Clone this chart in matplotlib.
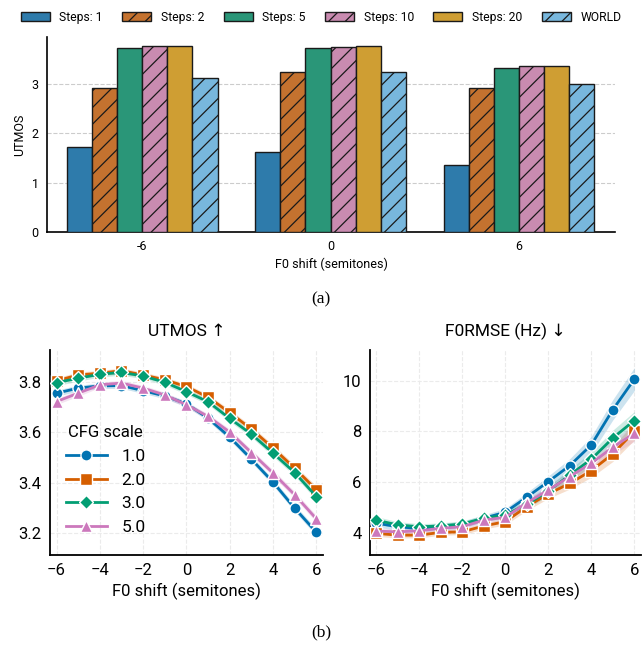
import numpy as np
import matplotlib
matplotlib.use("Agg")
import matplotlib.pyplot as plt

# ---- data (a): bar chart
shift_groups = ["-6", "0", "6"]
bar_labels = ["Steps: 1", "Steps: 2", "Steps: 5", "Steps: 10", "Steps: 20", "WORLD"]
steps_1 = [1.73, 1.63, 1.35]
steps_2 = [2.93, 3.25, 2.93]
steps_5 = [3.74, 3.74, 3.33]
steps_10 = [3.77, 3.75, 3.37]
steps_20 = [3.77, 3.77, 3.38]
world = [3.12, 3.24, 3.01]

# ---- data (b): line plots
shifts = [-6, -5, -4, -3, -2, -1, 0, 1, 2, 3, 4, 5, 6]
cfg_labels = ["1.0", "2.0", "3.0", "5.0"]
utmos_cfg1 = [3.754, 3.774, 3.783, 3.784, 3.764, 3.743, 3.712, 3.655, 3.580, 3.493, 3.402, 3.299, 3.204]
utmos_cfg2 = [3.803, 3.826, 3.833, 3.843, 3.826, 3.807, 3.780, 3.738, 3.677, 3.612, 3.537, 3.457, 3.372]
utmos_cfg3 = [3.796, 3.813, 3.829, 3.836, 3.822, 3.797, 3.760, 3.720, 3.654, 3.592, 3.517, 3.440, 3.345]
utmos_cfg5 = [3.721, 3.754, 3.787, 3.794, 3.774, 3.747, 3.708, 3.662, 3.600, 3.519, 3.438, 3.352, 3.257]
utmos_ci = [0.012, 0.012, 0.011, 0.011, 0.011, 0.011, 0.011, 0.011, 0.012, 0.012, 0.013, 0.013, 0.014]

f0_cfg1 = [4.40, 4.26, 4.19, 4.26, 4.33, 4.59, 4.83, 5.42, 6.03, 6.66, 7.47, 8.85, 10.05]
f0_cfg2 = [4.00, 3.93, 3.93, 4.04, 4.06, 4.29, 4.46, 5.05, 5.55, 5.96, 6.46, 7.12, 8.00]
f0_cfg3 = [4.52, 4.33, 4.26, 4.29, 4.37, 4.59, 4.72, 5.14, 5.66, 6.29, 6.91, 7.74, 8.43]
f0_cfg5 = [4.09, 4.06, 4.10, 4.20, 4.26, 4.52, 4.63, 5.20, 5.70, 6.23, 6.75, 7.38, 7.93]
f0_ci1 = [0.15, 0.14, 0.13, 0.13, 0.13, 0.14, 0.15, 0.18, 0.22, 0.27, 0.33, 0.40, 0.45]
f0_ci2 = [0.12, 0.11, 0.11, 0.11, 0.11, 0.12, 0.13, 0.15, 0.18, 0.22, 0.26, 0.30, 0.34]
f0_ci3 = [0.14, 0.13, 0.12, 0.12, 0.12, 0.13, 0.14, 0.16, 0.19, 0.23, 0.27, 0.31, 0.35]
f0_ci5 = [0.12, 0.11, 0.11, 0.11, 0.11, 0.12, 0.13, 0.15, 0.18, 0.21, 0.25, 0.29, 0.32]

bar_colors = ["#2E7BAB", "#C4722F", "#2A9678", "#C98BB0", "#CF9E33", "#78B7DD"]
bar_hatches = ["", "//", "", "//", "", "//"]
line_colors = ["#0173B2", "#D55E00", "#029E73", "#CC78BC"]
line_markers = ["o", "s", "D", "^"]

plt.rcParams['font.family'] = ['Roboto', 'DejaVu Sans']
plt.rcParams['hatch.linewidth'] = 0.9

fig = plt.figure(figsize=(6.42, 6.49), dpi=100)

# ---------- (a)
ax = fig.add_axes([0.0732, 0.643, 0.885, 0.300])
bar_series = [steps_1, steps_2, steps_5, steps_10, steps_20, world]
x = np.arange(len(shift_groups))
w = 0.8 / len(bar_series)
for i, vals in enumerate(bar_series):
    ax.bar(x - 0.4 + w * (i + 0.5), vals, width=w, color=bar_colors[i],
           hatch=bar_hatches[i], edgecolor="#1a1a1a", linewidth=1.0,
           label=bar_labels[i], zorder=3)
ax.set_xlim(-0.505, 2.51)
ax.set_ylim(0, 3.96)
ax.set_yticks([0, 1, 2, 3])
ax.set_xticks(x)
ax.set_xticklabels(shift_groups)
ax.yaxis.grid(True, linestyle="--", color="#cccccc", linewidth=0.8, zorder=0)
ax.set_axisbelow(True)
for s in ["top", "right"]:
    ax.spines[s].set_visible(False)
ax.spines["left"].set_linewidth(1.2)
ax.spines["bottom"].set_linewidth(1.2)
ax.tick_params(labelsize=9, length=0, pad=6)
ax.set_ylabel("UTMOS", fontsize=9)
ax.set_xlabel("F0 shift (semitones)", fontsize=9, labelpad=3)
fig.legend(loc="upper center", bbox_to_anchor=(0.5, 1.0), ncol=6, frameon=False,
           fontsize=8.7, handlelength=2.4, columnspacing=1.6, handletextpad=0.8)
fig.text(0.5, 0.538, "(a)", ha="center", va="center", fontsize=12.5,
         family="Liberation Serif")

# ---------- (b)
axl = fig.add_axes([0.0779, 0.1448, 0.425, 0.316])
axr = fig.add_axes([0.576, 0.1448, 0.422, 0.316])

utmos_series = [utmos_cfg1, utmos_cfg2, utmos_cfg3, utmos_cfg5]
f0_series = [f0_cfg1, f0_cfg2, f0_cfg3, f0_cfg5]
f0_cis = [f0_ci1, f0_ci2, f0_ci3, f0_ci5]

for i in range(4):
    ms = 8 if line_markers[i] != "D" else 7
    y = np.array(utmos_series[i])
    ci = np.array(utmos_ci)
    axl.fill_between(shifts, y - ci, y + ci, color=line_colors[i], alpha=0.2, linewidth=0)
    axl.plot(shifts, y, color=line_colors[i], marker=line_markers[i], lw=2,
             ms=ms, mec="white", mew=1.0, label=cfg_labels[i], zorder=3)
    y2 = np.array(f0_series[i])
    ci2 = np.array(f0_cis[i])
    axr.fill_between(shifts, y2 - ci2, y2 + ci2, color=line_colors[i], alpha=0.2, linewidth=0)
    axr.plot(shifts, y2, color=line_colors[i], marker=line_markers[i], lw=2,
             ms=ms, mec="white", mew=1.0, zorder=3)

for a in (axl, axr):
    a.set_xlim(-6.3, 6.3)
    a.set_xticks([-6, -4, -2, 0, 2, 4, 6])
    a.set_xticklabels(["\u22126", "\u22124", "\u22122", "0", "2", "4", "6"])
    a.grid(True, linestyle="--", color="#ebebeb", linewidth=0.8)
    a.set_axisbelow(True)
    for s in ["top", "right"]:
        a.spines[s].set_visible(False)
    a.spines["left"].set_linewidth(1.3)
    a.spines["bottom"].set_linewidth(1.3)
    a.tick_params(labelsize=12, length=0, pad=6)
    a.set_xlabel("F0 shift (semitones)", fontsize=12, labelpad=3)

axl.set_ylim(3.114, 3.925)
axl.set_yticks([3.2, 3.4, 3.6, 3.8])
axl.set_title("UTMOS \u2191", fontsize=12.5, pad=10)
axr.set_ylim(3.15, 11.2)
axr.set_yticks([4, 6, 8, 10])
axr.set_title("F0RMSE (Hz) \u2193", fontsize=12.5, pad=10)

axl.legend(title="CFG scale", loc="lower left", bbox_to_anchor=(0.0, 0.02),
           frameon=False, fontsize=12.5, title_fontsize=12, handlelength=2.4)

fig.text(0.5, 0.026, "(b)", ha="center", va="center", fontsize=12.5,
         family="Liberation Serif")

fig.savefig("out.png", dpi=100)
